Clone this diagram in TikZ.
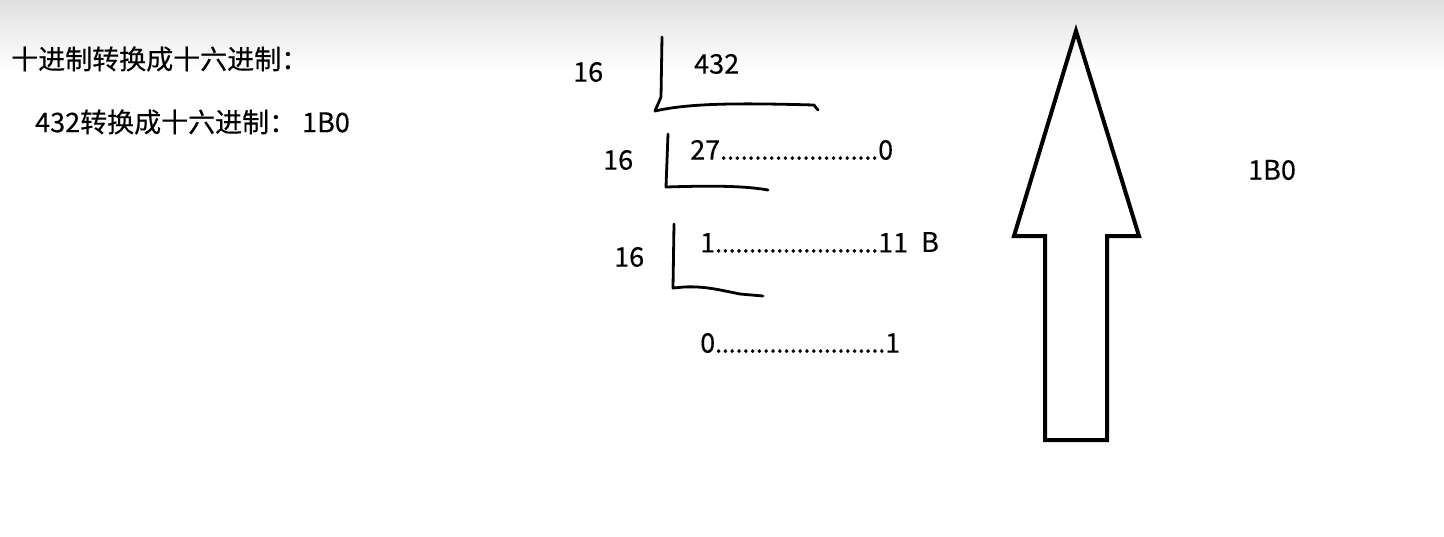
\documentclass[tikz,border=0pt]{standalone}
\usepackage{fontspec}
\setmainfont[FakeBold=0.3]{Noto Sans CJK SC}
\newcommand{\lead}[1]{\hbox to #1pt{\xleaders\hbox to 6.75pt{\hss.\hss}\hfill}}
\begin{document}
\begin{tikzpicture}[x=1pt,y=-1pt,
  txt/.style={anchor=west,inner sep=0pt,font=\fontsize{27}{32}\selectfont},
  hand/.style={line width=2.8pt,line cap=round,line join=round},
  bigarrow/.style={line width=4pt,line join=miter}]
\useasboundingbox (0,0) rectangle (1444,536);
\fill[white] (0,0) rectangle (1444,536);
\shade[top color=black!12,bottom color=white] (0,0) rectangle (1444,70);
% left texts
\node[txt] (t1) at (11,59) {十进制转换成十六进制：};
\node[txt] (t2) at (35,122) {432转换成十六进制：\hspace{6pt}1B0};
% division steps
\node[txt] (d1) at (573,72) {16};
\node[txt] (n1) at (694,64) {432};
\draw[hand] (662,37) -- (661,97) -- (655,111) .. controls (690,103) and (740,103) .. (814,105) -- (818,110);
\node[txt] (d2) at (603,160) {16};
\node[txt] (n2) at (690,150) {27\lead{158}0};
\draw[hand] (668,134) -- (666,187) .. controls (700,186) and (740,185) .. (768,190);
\node[txt] (d3) at (614,257) {16};
\node[txt] (n3) at (700,243) {1\lead{163}11};
\node[txt] (b) at (921,242) {B};
\draw[hand] (674,224) -- (673,288) -- (684,287) .. controls (705,286) and (720,290) .. (740,294) -- (763,296);
\node[txt] (n4) at (700,343) {0\lead{170}1};
% big arrow
\draw[bigarrow] (1076,31) -- (1139,236) -- (1107,236) -- (1107,440) -- (1045,440) -- (1045,236) -- (1014,236) -- cycle;
\node[txt] (r) at (1248,170) {1B0};
\end{tikzpicture}
\end{document}
